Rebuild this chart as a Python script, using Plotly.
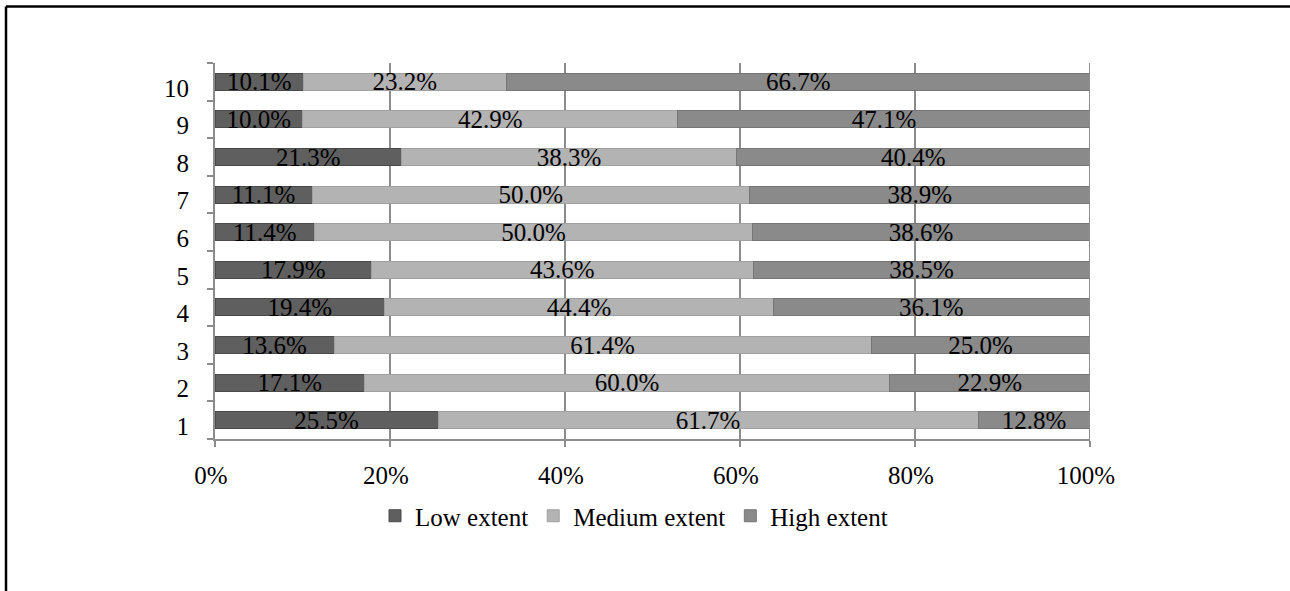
import plotly.graph_objects as go

categories = ["1", "2", "3", "4", "5", "6", "7", "8", "9", "10"]
low = [25.5, 17.1, 13.6, 19.4, 17.9, 11.4, 11.1, 21.3, 10.0, 10.1]
medium = [61.7, 60.0, 61.4, 44.4, 43.6, 50.0, 50.0, 38.3, 42.9, 23.2]
high = [12.8, 22.9, 25.0, 36.1, 38.5, 38.6, 38.9, 40.4, 47.1, 66.7]
tick_vals = [0, 0.2, 0.4, 0.6, 0.8, 1.0]
tick_text = ["0%", "20%", "40%", "60%", "80%", "100%"]

series = [
    ("Low extent", low, "#5f5f5f", "#4a4a4a"),
    ("Medium extent", medium, "#b3b3b3", "#a0a0a0"),
    ("High extent", high, "#8a8a8a", "#767676"),
]

font_family = "Liberation Serif"
FS = 25
fig = go.Figure()
for name, vals, col, edge in series:
    fig.add_trace(go.Bar(
        y=categories,
        x=[v / 100 for v in vals],
        name=name,
        orientation="h",
        marker=dict(color=col, line=dict(color=edge, width=1)),
        text=[f"{v:.1f}%" for v in vals],
        textposition="inside",
        insidetextanchor="middle",
        constraintext="none",
        textangle=0,
        textfont=dict(family=font_family, size=FS, color="#000000"),
        hoverinfo="skip",
    ))

L, R, T, B = 215, 200, 63, 152
W, H = 1290, 591
pw, ph = W - L - R, H - T - B

def px_x(p):
    return (p - L) / pw

def px_y(p):
    return (H - B - p) / ph

fig.update_layout(
    width=W, height=H,
    barmode="stack",
    bargap=0.55,
    margin=dict(l=L, r=R, t=T, b=B, pad=0),
    paper_bgcolor="white",
    plot_bgcolor="white",
    font=dict(family=font_family, size=FS, color="#000000"),
    showlegend=True,
    legend=dict(
        orientation="h",
        traceorder="normal",
        x=px_x(634), xanchor="center",
        y=px_y(516), yanchor="middle",
        font=dict(family=font_family, size=FS, color="#000000"),
        itemwidth=30,
        tracegroupgap=0,
        bgcolor="rgba(0,0,0,0)",
    ),
    xaxis=dict(
        range=[0, 1],
        tickvals=tick_vals,
        ticktext=tick_text,
        showgrid=True,
        gridcolor="#8c8c8c",
        gridwidth=2,
        showline=True,
        linecolor="#8c8c8c",
        linewidth=2,
        ticks="outside",
        ticklen=6,
        tickcolor="#8c8c8c",
        tickwidth=2,
        ticklabelstandoff=7,
        ticklabelshift=-4,
        zeroline=False,
        tickfont=dict(family=font_family, size=FS, color="#000000"),
        fixedrange=True,
    ),
    yaxis=dict(
        type="category",
        categoryorder="array",
        categoryarray=categories,
        showgrid=False,
        showline=True,
        linecolor="#8c8c8c",
        linewidth=2,
        ticks="outside",
        tickson="boundaries",
        ticklen=6,
        tickcolor="#8c8c8c",
        tickwidth=2,
        ticklabelstandoff=19,
        ticklabelshift=6,
        tickfont=dict(family=font_family, size=FS, color="#000000"),
        fixedrange=True,
    ),
    shapes=[
        dict(type="line", xref="x", yref="paper", x0=1, x1=1, y0=0, y1=1,
             line=dict(color="#8c8c8c", width=2)),
        dict(type="line", xref="paper", yref="paper", x0=px_x(6), x1=px_x(6),
             y0=px_y(W), y1=px_y(6.5), line=dict(color="#000000", width=2.5)),
        dict(type="line", xref="paper", yref="paper", x0=px_x(6), x1=px_x(1300),
             y0=px_y(6.5), y1=px_y(6.5), line=dict(color="#000000", width=2.5)),
    ],
)

fig.write_html("out.html", config={"displayModeBar": False},
               post_script="document.body.style.margin='0';")
